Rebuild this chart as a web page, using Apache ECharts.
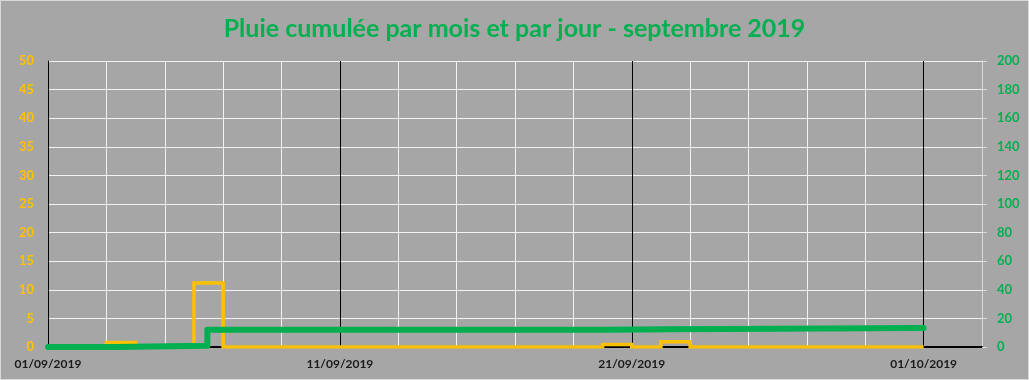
<!DOCTYPE html>
<html>
<head>
<meta charset="utf-8">
<script src="https://cdn.jsdelivr.net/npm/echarts@6/dist/echarts.min.js"></script>
<style>
  html, body { margin: 0; padding: 0; background: #a6a6a6; }
  #frame { position: absolute; left: 0; top: 0; width: 1027px; height: 378px; border: 1px solid #d9d9d9; background: #a6a6a6; }
  #chart { width: 1027px; height: 378px; }
</style>
</head>
<body>
<div id="frame"><div id="chart"></div></div>
<script>
// Daily rain (mm), one value per day of September 2019 (01/09 .. 30/09)
const dailyRain = [0, 0, 0.8, 0, 0, 11.2, 0, 0, 0, 0,
                   0, 0, 0, 0, 0, 0, 0, 0, 0, 0.45,
                   0, 0.9, 0, 0, 0, 0, 0, 0, 0, 0];
// Cumulative rain: time (days since 01/09) and cumulated value (mm)
const cumulTimes  = [0, 2.33, 5.46, 19.04, 21.34, 30];
const cumulValues = [0, 0.8, 12.0, 12.45, 13.35, 13.35];
// X tick labels at day offsets
const xTickPos    = [0, 10, 20, 30];
const xTickLabels = ['01/09/2019', '11/09/2019', '21/09/2019', '01/10/2019'];
const titleText = 'Pluie cumulée par mois et par jour - septembre 2019';

const dailyData = dailyRain.map((v, i) => [i, v]);
dailyData.push([dailyRain.length, 0]);
const cumulData = cumulTimes.map((t, i) => [t, cumulValues[i]]);

const FONT = 'Lato, "Open Sans", "Liberation Sans", sans-serif';
const chart = echarts.init(document.getElementById('chart'), null, { renderer: 'canvas' });
chart.setOption({
  backgroundColor: '#a6a6a6',
  animation: false,
  title: {
    text: titleText,
    left: 'center',
    top: 10,
    textStyle: { color: '#00b050', fontSize: 25, fontWeight: 'bold', fontFamily: FONT }
  },
  grid: { left: 47, right: 46, top: 60, bottom: 32, containLabel: false },
  xAxis: {
    type: 'value', min: 0, max: 32, interval: 2, offset: 1,
    axisLine: { show: true, lineStyle: { color: '#000', width: 2 } },
    axisTick: { show: false },
    axisLabel: {
      color: '#1a1a1a', fontWeight: 'bold', fontSize: 12, fontFamily: FONT, margin: 10,
      formatter: v => { const k = xTickPos.indexOf(v); return k >= 0 ? xTickLabels[k] : ''; }
    },
    splitLine: { show: true, lineStyle: { color: ['#000', '#f2f2f2', '#f2f2f2', '#f2f2f2', '#f2f2f2'], width: 1 } }
  },
  yAxis: [
    {
      type: 'value', min: 0, max: 50, interval: 5, position: 'left',
      axisLine: { show: true, lineStyle: { color: '#000', width: 1 } },
      axisTick: { show: false },
      axisLabel: { color: '#ffc000', fontWeight: 'bold', fontSize: 13, fontFamily: FONT, margin: 14 },
      splitLine: { show: true, lineStyle: { color: '#f2f2f2', width: 1 } }
    },
    {
      type: 'value', min: 0, max: 200, interval: 20, position: 'right',
      axisLine: { show: true, lineStyle: { color: '#d9d9d9', width: 1 } },
      axisTick: { show: true, length: 5, lineStyle: { color: '#d9d9d9' } },
      axisLabel: { color: '#00b050', fontWeight: 'bold', fontSize: 13, fontFamily: FONT, margin: 15 },
      splitLine: { show: false }
    }
  ],
  series: [
    {
      name: 'Pluie journalière', type: 'line', step: 'end', yAxisIndex: 0,
      data: dailyData, symbol: 'none',
      lineStyle: { color: '#ffc000', width: 3.5, join: 'miter' },
      z: 2
    },
    {
      name: 'Pluie cumulée', type: 'line', step: 'end', yAxisIndex: 1,
      data: cumulData, symbol: 'none',
      lineStyle: { color: '#00b050', width: 6, cap: 'round', join: 'round' },
      z: 3
    }
  ]
});
</script>
</body>
</html>
